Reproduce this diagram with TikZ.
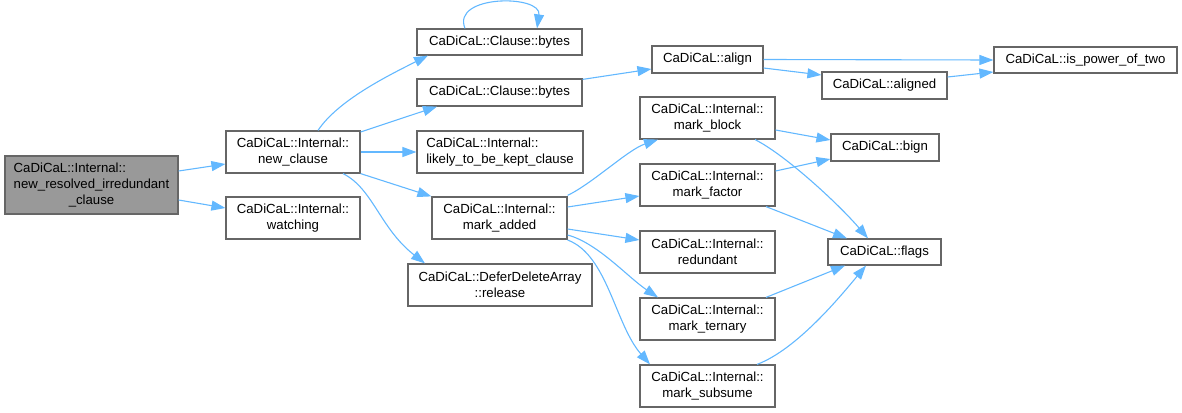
\documentclass[tikz,border=0pt]{standalone}
\usepackage{fontspec}
\setmainfont{Liberation Sans}
\usetikzlibrary{arrows.meta,calc}
\definecolor{edgec}{HTML}{63B8FF}
\definecolor{bordc}{HTML}{666666}
\definecolor{mainfillc}{HTML}{999999}
\newcommand{\leftfirst}[2]{\setbox0\hbox{#2}\hbox to \wd0{#1\hfil}}
\tikzset{arrowtip/.tip={Triangle[length=14pt,width=10pt]}}
\begin{document}
\begin{tikzpicture}[x=1pt,y=-1pt,
  box/.style={draw=bordc,line width=1.2pt,fill=white,rectangle,inner sep=0pt,align=center,
    font=\fontsize{13.2}{16}\selectfont},
  arr/.style={draw=edgec,line width=1.1pt,-arrowtip}]
\path[use as bounding box] (0,0) rectangle (1182,412);

\node[box,fill=mainfillc,minimum width=173pt,minimum height=58pt] (main) at (91.5,185)
  {\leftfirst{CaDiCaL::Internal::}{new\_resolved\_irredundant}\\new\_resolved\_irredundant\\\_clause};
\node[box,minimum width=134pt,minimum height=42pt] (newclause) at (293,152) {CaDiCaL::Internal::\\new\_clause};
\node[box,minimum width=134pt,minimum height=42pt] (watching) at (293,218) {CaDiCaL::Internal::\\watching};
\node[box,minimum width=165pt,minimum height=26pt] (bytesa) at (499.5,42) {CaDiCaL::Clause::bytes};
\node[box,minimum width=165pt,minimum height=27pt] (bytesb) at (499.5,92.5) {CaDiCaL::Clause::bytes};
\node[box,minimum width=166pt,minimum height=42pt] (likely) at (500,152)
  {\leftfirst{CaDiCaL::Internal::}{likely\_to\_be\_kept\_clause}\\likely\_to\_be\_kept\_clause};
\node[box,minimum width=135pt,minimum height=42pt] (markadded) at (499.5,218) {CaDiCaL::Internal::\\mark\_added};
\node[box,minimum width=184pt,minimum height=42pt] (release) at (500,285) {CaDiCaL::DeferDeleteArray\\::release};
\node[box,minimum width=111pt,minimum height=27pt] (align) at (707.5,59.5) {CaDiCaL::align};
\node[box,minimum width=125pt,minimum height=27pt] (aligned) at (884.5,85.5) {CaDiCaL::aligned};
\node[box,minimum width=183pt,minimum height=26pt] (ispow) at (1085.5,60) {CaDiCaL::is\_power\_of\_two};
\node[box,minimum width=135pt,minimum height=42pt] (markblock) at (707.5,118) {CaDiCaL::Internal::\\mark\_block};
\node[box,minimum width=135pt,minimum height=42pt] (markfactor) at (707.5,185) {CaDiCaL::Internal::\\mark\_factor};
\node[box,minimum width=135pt,minimum height=42pt] (redundant) at (707.5,252) {CaDiCaL::Internal::\\redundant};
\node[box,minimum width=135pt,minimum height=42pt] (ternary) at (707.5,319) {CaDiCaL::Internal::\\mark\_ternary};
\node[box,minimum width=135pt,minimum height=42pt] (subsume) at (707.5,386) {CaDiCaL::Internal::\\mark\_subsume};
\node[box,minimum width=108pt,minimum height=27pt] (bign) at (885,147.5) {CaDiCaL::bign};
\node[box,minimum width=113pt,minimum height=26pt] (flags) at (884.5,252) {CaDiCaL::flags};

% edges
\draw[arr] ($(main.east)+(0,-14)$) -- ($(newclause.west)+(0,12)$);
\draw[arr] ($(main.east)+(0,15)$) -- ($(watching.west)+(0,-10)$);
\draw[arr] ($(newclause.north)+(25,0)$) .. controls +(20,-30) and +(-40,20) .. ($(bytesa.south)+(-71.5,0)$);
\draw[arr] ($(bytesa.north)+(-34.5,0)$) .. controls +(-14,-34) and +(5,-34) .. ($(bytesa.north)+(37.5,0)$);
\draw[arr] ($(newclause.east)+(0,-20)$) -- ($(bytesb.south)+(-62.5,0)$);
\draw[arr] (newclause.east) -- (likely.west);
\draw[arr] (newclause.south east) -- (markadded.north west);
\draw[arr] ($(newclause.south)+(50,0)$) .. controls +(30,15) and +(-45,-35) .. ($(release.north)+(-75,0)$);
\draw[arr] ($(bytesb.north east)+(0,1)$) -- ($(align.west)+(0,9.5)$);
\draw[arr] (align.east) -- (ispow.west);
\draw[arr] ($(align.east)+(0,8.5)$) -- ($(aligned.west)+(0,-10.5)$);
\draw[arr] ($(aligned.east)+(0,-8.5)$) -- ($(ispow.west)+(0,12)$);
\draw[arr] ($(markadded.north east)+(0,-1)$) .. controls +(25,-12) and +(-30,10) .. ($(markblock.south)+(-49.5,0)$);
\draw[arr] ($(markadded.east)+(0,-11)$) -- ($(markfactor.west)+(0,11)$);
\draw[arr] ($(markadded.east)+(0,11)$) -- ($(redundant.west)+(0,-12)$);
\draw[arr] ($(markadded.east)+(0,17)$) .. controls +(30,8) and +(-30,-20) .. ($(ternary.north)+(-49.5,0)$);
\draw[arr] ($(markadded.east)+(0,22)$) .. controls +(40,15) and +(-35,-40) .. ($(subsume.north)+(-57.5,0)$);
\draw[arr] ($(markblock.east)+(0,12)$) -- ($(bign.west)+(0,-7.5)$);
\draw[arr] ($(markblock.south)+(47.5,0)$) .. controls +(30,15) and +(-30,-35) .. ($(flags.north)+(-16.5,0)$);
\draw[arr] ($(markfactor.east)+(0,-14)$) -- ($(bign.west)+(0,11.5)$);
\draw[arr] ($(markfactor.south)+(58.5,0)$) -- ($(flags.north)+(-37.5,0)$);
\draw[arr] ($(ternary.north)+(58.5,0)$) -- ($(flags.south)+(-39.5,0)$);
\draw[arr] ($(subsume.north)+(49.5,0)$) .. controls +(40,-15) and +(-25,30) .. ($(flags.south)+(-18.5,0)$);
\end{tikzpicture}
\end{document}
